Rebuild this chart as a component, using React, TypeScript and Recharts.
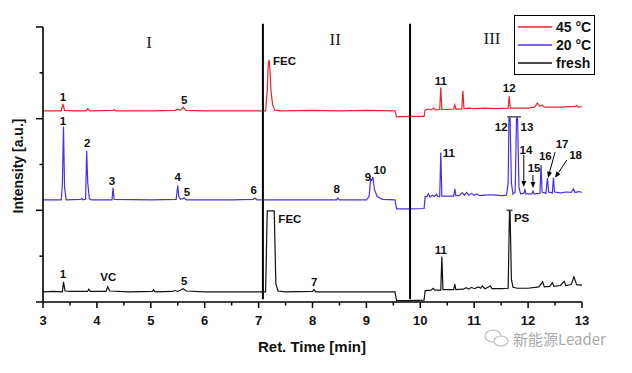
import React from 'react';
import { ComposedChart, Line, Scatter, XAxis, YAxis, ReferenceLine, Legend } from 'recharts';

// retention time [min], intensity [a.u.] (traces are offset vertically)
const red45: [number, number][] = [
  [3.0, 4.17], [3.2, 4.17], [3.34, 4.17], [3.37, 4.32], [3.40, 4.18], [3.6, 4.17], [3.80, 4.17], [3.83, 4.22],
  [3.87, 4.17], [4.30, 4.18], [4.32, 4.2], [4.35, 4.17], [5.0, 4.17], [5.45, 4.18], [5.5, 4.2], [5.55, 4.18],
  [5.6, 4.25], [5.65, 4.18], [6.0, 4.17], [6.5, 4.17], [7.0, 4.17], [7.13, 4.17], [7.16, 4.6], [7.18, 5.2],
  [7.195, 5.28], [7.21, 5.1], [7.23, 4.6], [7.26, 4.3], [7.30, 4.19], [7.4, 4.17], [8.0, 4.18], [8.5, 4.17],
  [9.0, 4.18], [9.53, 4.17], [9.56, 4.04], [9.8, 4.05], [10.07, 4.05], [10.09, 4.19], [10.15, 4.21], [10.2, 4.19],
  [10.25, 4.23], [10.28, 4.19], [10.36, 4.2], [10.38, 4.68], [10.40, 4.2], [10.5, 4.2], [10.62, 4.21], [10.64, 4.3],
  [10.66, 4.21], [10.77, 4.21], [10.79, 4.61], [10.81, 4.22], [10.9, 4.23], [11.0, 4.22], [11.2, 4.23], [11.4, 4.22],
  [11.63, 4.23], [11.65, 4.49], [11.67, 4.23], [12.0, 4.23], [12.12, 4.25], [12.17, 4.34], [12.22, 4.27],
  [12.26, 4.3], [12.3, 4.25], [12.6, 4.25], [12.88, 4.27], [12.9, 4.29], [12.93, 4.25], [13.0, 4.26],
];

const blue20: [number, number][] = [
  [3.0, 2.23], [3.34, 2.23], [3.36, 2.6], [3.38, 3.83], [3.40, 2.5], [3.43, 2.23], [3.7, 2.24], [3.72, 2.26],
  [3.74, 2.23], [3.79, 2.24], [3.81, 3.3], [3.83, 2.6], [3.86, 2.25], [3.9, 2.23], [4.28, 2.23], [4.30, 2.49],
  [4.32, 2.24], [5.0, 2.23], [5.47, 2.24], [5.5, 2.54], [5.52, 2.3], [5.55, 2.24], [5.62, 2.27], [5.66, 2.23],
  [6.0, 2.23], [6.5, 2.23], [6.9, 2.24], [6.93, 2.27], [6.97, 2.23], [7.5, 2.23], [8.0, 2.23], [8.45, 2.23],
  [8.47, 2.27], [8.5, 2.23], [9.0, 2.23], [9.05, 2.3], [9.08, 2.68], [9.10, 2.66], [9.12, 2.73], [9.15, 2.45],
  [9.2, 2.3], [9.3, 2.24], [9.53, 2.23], [9.56, 2.03], [9.8, 2.03], [10.07, 2.04], [10.09, 2.3], [10.12, 2.3],
  [10.15, 2.36], [10.18, 2.29], [10.22, 2.33], [10.26, 2.3], [10.3, 2.35], [10.33, 2.3], [10.36, 2.3],
  [10.38, 3.26], [10.40, 2.31], [10.5, 2.31], [10.62, 2.31], [10.64, 2.47], [10.66, 2.32], [10.72, 2.32],
  [10.78, 2.38], [10.82, 2.33], [10.86, 2.39], [10.9, 2.33], [10.95, 2.37], [11.0, 2.33], [11.05, 2.36],
  [11.1, 2.32], [11.2, 2.33], [11.3, 2.34], [11.4, 2.33], [11.5, 2.32], [11.6, 2.33], [11.63, 2.6],
  [11.645, 4.02], [11.665, 4.02], [11.69, 2.6], [11.72, 2.35], [11.76, 2.4], [11.785, 4.02], [11.805, 4.02],
  [11.83, 2.5], [11.86, 2.36], [11.92, 2.37], [11.94, 2.45], [11.96, 2.36], [12.07, 2.36], [12.09, 2.42],
  [12.11, 2.36], [12.22, 2.37], [12.24, 2.99], [12.26, 2.4], [12.33, 2.37], [12.36, 2.71], [12.38, 2.4],
  [12.45, 2.38], [12.47, 2.71], [12.49, 2.4], [12.6, 2.38], [12.7, 2.4], [12.8, 2.39], [12.84, 2.47],
  [12.87, 2.39], [12.95, 2.41], [13.0, 2.39],
];

const fresh: [number, number][] = [
  [3.0, 0.22], [3.2, 0.23], [3.36, 0.22], [3.38, 0.44], [3.41, 0.24], [3.5, 0.23], [3.83, 0.23], [3.85, 0.28],
  [3.88, 0.23], [4.17, 0.23], [4.2, 0.33], [4.24, 0.24], [4.6, 0.22], [5.03, 0.23], [5.05, 0.27], [5.08, 0.22],
  [5.4, 0.23], [5.45, 0.25], [5.5, 0.23], [5.6, 0.29], [5.66, 0.24], [6.0, 0.22], [6.5, 0.22], [7.0, 0.22],
  [7.13, 0.22], [7.16, 1.99], [7.29, 1.99], [7.32, 0.4], [7.36, 0.24], [7.5, 0.22], [8.0, 0.23], [8.03, 0.27],
  [8.06, 0.22], [8.5, 0.22], [9.0, 0.22], [9.53, 0.22], [9.56, 0.03], [9.8, 0.03], [10.07, 0.04], [10.09, 0.25],
  [10.2, 0.26], [10.24, 0.3], [10.27, 0.26], [10.38, 0.26], [10.40, 0.99], [10.42, 0.27], [10.62, 0.27],
  [10.64, 0.39], [10.66, 0.27], [10.8, 0.28], [10.85, 0.31], [10.9, 0.28], [10.95, 0.32], [11.0, 0.29],
  [11.08, 0.33], [11.12, 0.3], [11.15, 0.35], [11.2, 0.29], [11.3, 0.35], [11.33, 0.29], [11.5, 0.29],
  [11.63, 0.3], [11.655, 1.99], [11.665, 1.99], [11.69, 0.5], [11.72, 0.32], [11.8, 0.3], [12.0, 0.3],
  [12.2, 0.33], [12.27, 0.44], [12.3, 0.33], [12.4, 0.34], [12.45, 0.42], [12.48, 0.34], [12.6, 0.36],
  [12.67, 0.45], [12.7, 0.36], [12.8, 0.38], [12.85, 0.55], [12.9, 0.38], [13.0, 0.37],
];

const peakLabels = [
  { t: 3.37, v: 4.47, text: '1' }, { t: 5.62, v: 4.41, text: '5' }, { t: 7.48, v: 5.26, text: 'FEC' },
  { t: 10.38, v: 4.82, text: '11' }, { t: 11.65, v: 4.67, text: '12' },
  { t: 3.37, v: 3.95, text: '1' }, { t: 3.82, v: 3.47, text: '2' }, { t: 4.28, v: 2.64, text: '3' },
  { t: 5.5, v: 2.73, text: '4' }, { t: 5.67, v: 2.4, text: '5' }, { t: 6.91, v: 2.44, text: '6' },
  { t: 8.45, v: 2.47, text: '8' }, { t: 9.03, v: 2.73, text: '9' }, { t: 9.25, v: 2.88, text: '10' },
  { t: 10.53, v: 3.25, text: '11' }, { t: 11.5, v: 3.82, text: '12' }, { t: 11.98, v: 3.82, text: '13' },
  { t: 11.96, v: 3.32, text: '14' }, { t: 12.11, v: 2.92, text: '15' }, { t: 12.32, v: 3.19, text: '16' },
  { t: 12.63, v: 3.45, text: '17' }, { t: 12.88, v: 3.21, text: '18' },
  { t: 3.37, v: 0.61, text: '1' }, { t: 4.21, v: 0.55, text: 'VC' }, { t: 5.62, v: 0.46, text: '5' },
  { t: 7.58, v: 1.81, text: 'FEC' }, { t: 8.03, v: 0.44, text: '7' }, { t: 10.38, v: 1.13, text: '11' },
  { t: 11.88, v: 1.83, text: 'PS' },
];

const regionLabels = [
  { t: 4.97, v: 5.67, text: 'I' }, { t: 8.42, v: 5.72, text: 'II' }, { t: 11.33, v: 5.76, text: 'III' },
];

const arrows = [
  { from: [11.92, 3.21], to: [11.92, 2.51] }, { from: [12.09, 2.77], to: [12.09, 2.49] },
  { from: [12.5, 3.27], to: [12.37, 2.71] }, { from: [12.72, 3.1], to: [12.5, 2.71] },
];

const caps = [
  { t1: 11.61, t2: 11.87, v: 4.04, color: '#555' }, { t1: 11.6, t2: 11.71, v: 2.0, color: '#444' },
];

const dividers = [7.08, 9.81];
const xTicks = [3, 3.5, 4, 4.5, 5, 5.5, 6, 6.5, 7, 7.5, 8, 8.5, 9, 9.5, 10, 10.5, 11, 11.5, 12, 12.5, 13];
const yTicks = [0, 1, 2, 3, 4, 5, 6];

const series = [
  { name: '45 °C', color: '#e8242b', data: red45 },
  { name: '20 °C', color: '#4b2fe6', data: blue20 },
  { name: 'fresh', color: '#111111', data: fresh },
];

const FONT = '"Liberation Sans", Arial, sans-serif';
const toPts = (a: [number, number][]) => a.map(([t, v]) => ({ t, v }));

const XTick = ({ x, y, payload }: any) => {
  const major = Number.isInteger(payload.value);
  return (
    <g>
      <line x1={x} x2={x} y1={y} y2={y + (major ? 6 : 3.5)} stroke="#000" strokeWidth={1.5} />
      {major && (
        <text x={x} y={y + 18} textAnchor="middle" dominantBaseline="central" fontFamily={FONT} fontWeight="bold" fontSize={13} fill="#111">
          {payload.value}
        </text>
      )}
    </g>
  );
};

const YTick = ({ x, y, payload }: any) => {
  const major = payload.value % 2 === 0;
  return <line x1={x - (major ? 7 : 3.5)} x2={x} y1={y} y2={y} stroke="#000" strokeWidth={1.5} />;
};

const Arrow = (p: any) => {
  const { x1, y1, x2, y2 } = p;
  const ang = Math.atan2(y2 - y1, x2 - x1);
  const L = 6, W = 2.5;
  const bx = x2 - L * Math.cos(ang), by = y2 - L * Math.sin(ang);
  const pts = `${x2},${y2} ${bx - W * Math.sin(ang)},${by + W * Math.cos(ang)} ${bx + W * Math.sin(ang)},${by - W * Math.cos(ang)}`;
  return (
    <g>
      <line x1={x1} y1={y1} x2={bx} y2={by} stroke="#000" strokeWidth={1} />
      <polygon points={pts} fill="#000" />
    </g>
  );
};

const LegendBox = () => (
  <div style={{ border: '1.5px solid #000', background: '#fff', padding: '2px 0 2px 3px', width: 76, fontFamily: FONT }}>
    {series.map((s) => (
      <div key={s.name} style={{ display: 'flex', alignItems: 'center', height: 18 }}>
        <svg width={36} height={4}><line x1={0} x2={34} y1={2} y2={2} stroke={s.color} strokeWidth={1.5} /></svg>
        <span style={{ fontWeight: 'bold', fontSize: 14, color: '#111', marginLeft: 2 }}>{s.name}</span>
      </div>
    ))}
  </div>
);

export default function App() {
  return (
    <div style={{ position: 'absolute', left: 0, top: 0, width: 632, height: 373, background: '#fff' }}>
      <ComposedChart width={632} height={373} margin={{ top: 27, right: 50, bottom: 41, left: 33 }}>
        <XAxis
          type="number" dataKey="t" domain={[3, 13]} ticks={xTicks} interval={0} height={30}
          tick={<XTick />} tickLine={false} tickSize={0} tickMargin={0}
          axisLine={{ stroke: '#000', strokeWidth: 1.6 }}
          label={{ content: () => (
            <text x={312} y={346} textAnchor="middle" dominantBaseline="central" fontFamily={FONT} fontWeight="bold" fontSize={15} fill="#111">
              Ret. Time [min]
            </text>
          ) }}
        />
        <YAxis
          type="number" domain={[0, 6]} ticks={yTicks} interval={0} width={10}
          tick={<YTick />} tickLine={false} tickSize={0} tickMargin={0}
          axisLine={{ stroke: '#000', strokeWidth: 1.6 }}
          label={{ content: () => (
            <text x={18} y={166} transform="rotate(-90 18 166)" textAnchor="middle" dominantBaseline="central" fontFamily={FONT} fontWeight="bold" fontSize={14} fill="#111">
              Intensity [a.u.]
            </text>
          ) }}
        />
        {series.map((s) => (
          <Line key={s.name} data={toPts(s.data)} dataKey="v" type="linear" stroke={s.color} strokeWidth={1.2} dot={false} isAnimationActive={false} />
        ))}
        {dividers.map((t) => (
          <ReferenceLine key={t} segment={[{ x: t, y: 0.06 }, { x: t, y: 6.07 }]} stroke="#000" strokeWidth={2} ifOverflow="visible" />
        ))}
        {caps.map((c, i) => (
          <ReferenceLine key={'c' + i} segment={[{ x: c.t1, y: c.v }, { x: c.t2, y: c.v }]} stroke={c.color} strokeWidth={1.5} ifOverflow="visible" />
        ))}
        {arrows.map((a, i) => (
          <ReferenceLine key={'a' + i} segment={[{ x: a.from[0], y: a.from[1] }, { x: a.to[0], y: a.to[1] }]} shape={<Arrow />} ifOverflow="visible" />
        ))}
        <Scatter
          data={peakLabels} dataKey="v" isAnimationActive={false}
          shape={(p: any) => (
            <text x={p.cx} y={p.cy} textAnchor="middle" dominantBaseline="central" fontFamily={FONT} fontWeight="bold" fontSize={11.5} fill="#111">
              {p.payload.text}
            </text>
          )}
        />
        <Scatter
          data={regionLabels} dataKey="v" isAnimationActive={false}
          shape={(p: any) => (
            <text x={p.cx} y={p.cy} textAnchor="middle" dominantBaseline="central" fontFamily='"Liberation Serif", "Times New Roman", serif' fontSize={17} fill="#222">
              {p.payload.text}
            </text>
          )}
        />
        <Legend
          content={<LegendBox />} layout="horizontal" verticalAlign="middle" align="center"
          wrapperStyle={{ left: 514, top: 15, width: 82 }}
        />
      </ComposedChart>
      <div style={{ position: 'absolute', left: 484, top: 330, height: 16, display: 'flex', alignItems: 'center', color: '#aaa', fontSize: 15, fontFamily: '"Noto Sans CJK SC", sans-serif' }}>
        <svg width={26} height={18} style={{ marginRight: 3 }}>
          <ellipse cx={9} cy={7} rx={8} ry={6} fill="none" stroke="#bbb" strokeWidth={1.2} />
          <ellipse cx={17} cy={12} rx={7} ry={5} fill="#fff" stroke="#bbb" strokeWidth={1.2} />
        </svg>
        <span style={{ display: 'block', lineHeight: '15px', height: 15, overflow: 'visible' }}>新能源Leader</span>
      </div>
    </div>
  );
}
